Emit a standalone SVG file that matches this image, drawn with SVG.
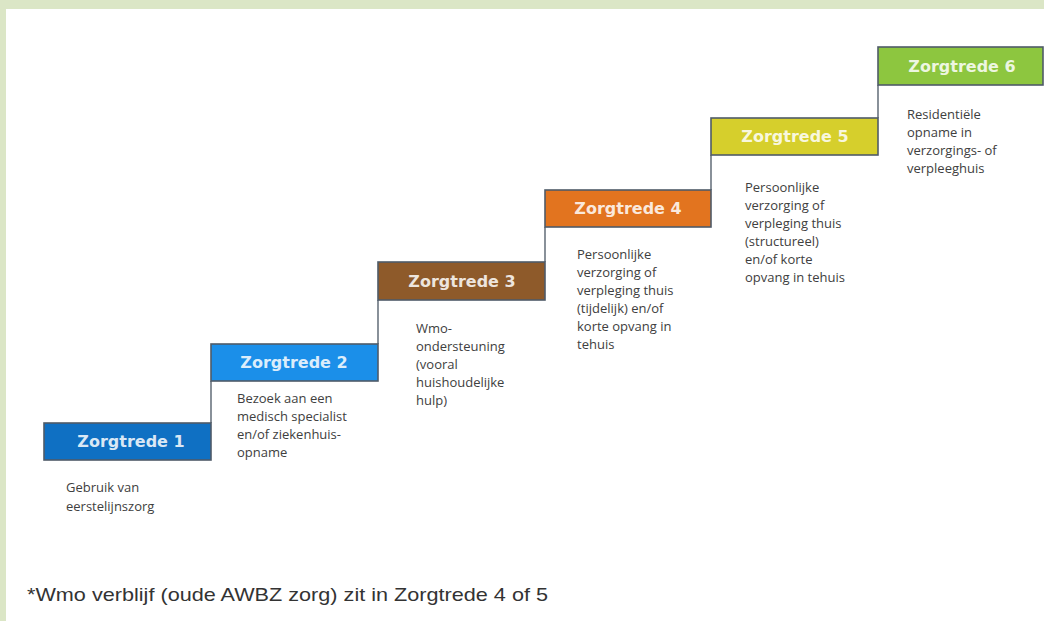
<svg xmlns="http://www.w3.org/2000/svg" width="1044" height="621" viewBox="0 0 1044 621">
  <style>
    .step { stroke: #4f5b68; stroke-width: 1.6; }
    .title { font-family: "DejaVu Sans", Verdana, sans-serif; font-weight: bold; font-size: 16px; fill: #ffffff; fill-opacity: 0.85; text-anchor: middle; }
    .desc { font-family: "Open Sans", "Liberation Sans", sans-serif; font-size: 13px; fill: #404040; }
    .riser { stroke: #6b7580; stroke-width: 1.6; fill: none; }
    .note { font-family: "Liberation Sans", Arial, sans-serif; font-size: 19px; fill: #333333; }
  </style>

  <!-- page frame -->
  <rect x="0" y="0" width="1044" height="621" fill="#dbe6c6"/>
  <rect x="6" y="9" width="1038" height="612" fill="#ffffff"/>

  <!-- risers between the steps -->
  <g id="connectors">
    <line class="riser" x1="211" y1="381" x2="211" y2="423"/>
    <line class="riser" x1="378" y1="300" x2="378" y2="344"/>
    <line class="riser" x1="545" y1="227" x2="545" y2="262"/>
    <line class="riser" x1="711" y1="155" x2="711" y2="190"/>
    <line class="riser" x1="878" y1="85" x2="878" y2="118"/>
  </g>

  <g id="step1">
    <rect class="step" x="44" y="423" width="167" height="37" fill="#0f70c3"/>
    <text class="title" x="131" y="447">Zorgtrede 1</text>
    <text class="desc" x="66" y="492">Gebruik van</text>
    <text class="desc" x="66" y="511">eerstelijnszorg</text>
  </g>

  <g id="step2">
    <rect class="step" x="211" y="344" width="167" height="37" fill="#1b8fe9"/>
    <text class="title" x="294" y="368">Zorgtrede 2</text>
    <text class="desc" x="237" y="403">Bezoek aan een</text>
    <text class="desc" x="237" y="421">medisch specialist</text>
    <text class="desc" x="237" y="439">en/of ziekenhuis-</text>
    <text class="desc" x="237" y="457">opname</text>
  </g>

  <g id="step3">
    <rect class="step" x="378" y="262" width="167" height="38" fill="#8e5a2a"/>
    <text class="title" x="462" y="287">Zorgtrede 3</text>
    <text class="desc" x="416" y="333">Wmo-</text>
    <text class="desc" x="416" y="351">ondersteuning</text>
    <text class="desc" x="416" y="369">(vooral</text>
    <text class="desc" x="416" y="387">huishoudelijke</text>
    <text class="desc" x="416" y="405">hulp)</text>
  </g>

  <g id="step4">
    <rect class="step" x="545" y="190" width="166" height="37" fill="#e2741f"/>
    <text class="title" x="628" y="214">Zorgtrede 4</text>
    <text class="desc" x="577" y="259">Persoonlijke</text>
    <text class="desc" x="577" y="277">verzorging of</text>
    <text class="desc" x="577" y="295">verpleging thuis</text>
    <text class="desc" x="577" y="313">(tijdelijk) en/of</text>
    <text class="desc" x="577" y="331">korte opvang in</text>
    <text class="desc" x="577" y="349">tehuis</text>
  </g>

  <g id="step5">
    <rect class="step" x="711" y="118" width="167" height="37" fill="#d6cf2c"/>
    <text class="title" x="795" y="142">Zorgtrede 5</text>
    <text class="desc" x="745" y="192">Persoonlijke</text>
    <text class="desc" x="745" y="210">verzorging of</text>
    <text class="desc" x="745" y="228">verpleging thuis</text>
    <text class="desc" x="745" y="246">(structureel)</text>
    <text class="desc" x="745" y="264">en/of korte</text>
    <text class="desc" x="745" y="282">opvang in tehuis</text>
  </g>

  <g id="step6">
    <rect class="step" x="878" y="47" width="165" height="38" fill="#8dc63f"/>
    <text class="title" x="962" y="72">Zorgtrede 6</text>
    <text class="desc" x="907" y="119">Residentiële</text>
    <text class="desc" x="907" y="137">opname in</text>
    <text class="desc" x="907" y="155">verzorgings- of</text>
    <text class="desc" x="907" y="173">verpleeghuis</text>
  </g>

  <text class="note" x="27" y="601" textLength="521" lengthAdjust="spacingAndGlyphs">*Wmo verblijf (oude AWBZ zorg) zit in Zorgtrede 4 of 5</text>
</svg>
